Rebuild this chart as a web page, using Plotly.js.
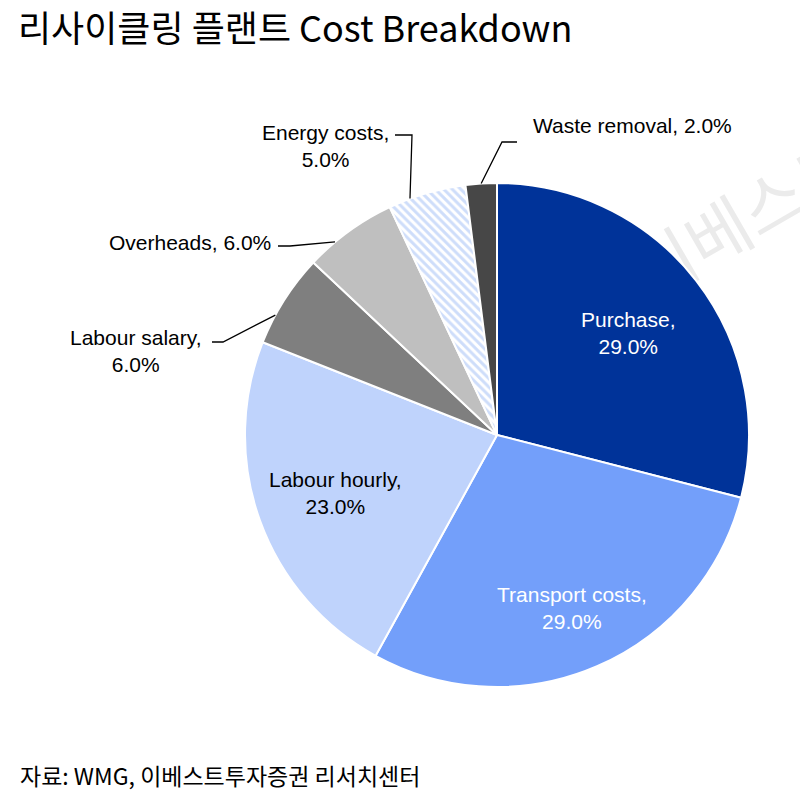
<!DOCTYPE html>
<html>
<head>
<meta charset="utf-8">
<script src="https://cdn.plot.ly/plotly-3.0.1.min.js"></script>
<style>
html,body{margin:0;padding:0;background:#fff;}
#wrap{position:relative;width:800px;height:800px;overflow:hidden;background:#fff;}
#wm{position:absolute;left:622px;top:192px;font-family:'Noto Sans CJK KR',sans-serif;font-size:68px;line-height:68px;color:#ebebeb;white-space:nowrap;transform-origin:102px 34px;transform:rotate(-30deg);z-index:0;}
#chart{position:absolute;left:0;top:0;width:800px;height:800px;z-index:1;}
</style>
</head>
<body>
<div id="wrap">
<div id="wm"></div>
<div id="chart"></div>
</div>
<script>
// ---- data ----
const categories = ["Purchase", "Transport costs", "Labour hourly", "Labour salary", "Overheads", "Energy costs", "Waste removal"];
const values = [29.0, 29.0, 23.0, 6.0, 6.0, 5.0, 2.0];
const titleText = "리사이클링 플랜트 Cost Breakdown";
const sourceText = "자료: WMG, 이베스트투자증권 리서치센터";
const watermarkText = "이베스트";

// ---- styles / layout params ----
const W = 800, H = 800;
const CX = 497, CY = 435, R = 252;   // pie centre / radius in px
const sliceColors = ["#003399", "#739ffa", "#bfd3fc", "#7f7f7f", "#bfbfbf", "#ffffff", "#474747"];
const labelFont = "'Liberation Sans Narrow', 'Arial Narrow', 'Liberation Sans', Arial, sans-serif";
const labelSize = 21;
const labelStyle = [
  {mode: "in", r: 0.66, color: "#ffffff", lines: 2},
  {mode: "in", r: 0.75, color: "#ffffff", lines: 2},
  {mode: "in", r: 0.68, color: "#000000", lines: 2},
  {mode: "out", shift: -4, elbow: [223, 342], end: [212, 342], text: [136, 351], anchor: "center", lines: 2},
  {mode: "out", shift: -4, elbow: [290, 246], end: [278, 246], text: [273, 243], anchor: "right", lines: 1},
  {mode: "out", shift: -4, elbow: [412, 135], end: [395, 135], text: [325, 146], anchor: "center", lines: 2},
  {mode: "out", shift: 0, elbow: [502, 142], end: [517, 142], text: [531, 126], anchor: "left", lines: 1}
];

document.getElementById("wm").textContent = watermarkText;

const px = x => x / W;
const py = y => 1 - y / H;

const total = values.reduce((a, b) => a + b, 0);
let cum = 0;
const annotations = [];
const shapes = [];
values.forEach((v, i) => {
  const mid = (cum + v / 2) / total * 360;
  cum += v;
  const st = labelStyle[i];
  const pct = v.toFixed(1) + "%";
  if (st.mode === "in") {
    const a = mid * Math.PI / 180;
    const x = CX + st.r * R * Math.sin(a), y = CY - st.r * R * Math.cos(a);
    annotations.push({
      x: px(x), y: py(y), xref: "paper", yref: "paper", showarrow: false,
      text: categories[i] + ",<br>" + pct, align: "center",
      xanchor: "center", yanchor: "middle",
      font: {family: labelFont, size: labelSize, color: st.color}
    });
  } else {
    const a = (mid + st.shift) * Math.PI / 180;
    const ex = CX + R * Math.sin(a), ey = CY - R * Math.cos(a);
    shapes.push({
      type: "path", xref: "paper", yref: "paper",
      path: `M ${px(ex)} ${py(ey)} L ${px(st.elbow[0])} ${py(st.elbow[1])} L ${px(st.end[0])} ${py(st.end[1])}`,
      line: {color: "#000000", width: 1.3}
    });
    const txt = st.lines === 2 ? categories[i] + ",<br>" + pct : categories[i] + ", " + pct;
    annotations.push({
      x: px(st.text[0]), y: py(st.text[1]), xref: "paper", yref: "paper", showarrow: false,
      text: txt, align: "center", xanchor: st.anchor, yanchor: "middle",
      font: {family: labelFont, size: labelSize, color: "#000000"}
    });
  }
});

// source
annotations.push({
  x: px(18), y: py(775), xref: "paper", yref: "paper", showarrow: false,
  text: sourceText, xanchor: "left", yanchor: "middle",
  font: {family: "'Noto Sans CJK KR', sans-serif", size: 23, color: "#000000"}
});

const trace = {
  type: "pie",
  labels: categories,
  values: values,
  sort: false,
  direction: "clockwise",
  rotation: 0,
  textinfo: "none",
  hoverinfo: "skip",
  showlegend: false,
  domain: {x: [(CX - R) / W, (CX + R) / W], y: [1 - (CY + R) / H, 1 - (CY - R) / H]},
  marker: {
    colors: sliceColors,
    line: {color: "#ffffff", width: 2},
    pattern: {
      shape: ["", "", "", "", "", "\\", ""],
      fgcolor: "#9dbcf5",
      bgcolor: "#ffffff",
      size: 6,
      solidity: 0.5,
      fillmode: "overlay"
    }
  }
};

const layout = {
  width: W, height: H,
  margin: {l: 0, r: 0, t: 0, b: 0},
  paper_bgcolor: "rgba(0,0,0,0)",
  plot_bgcolor: "rgba(0,0,0,0)",
  title: {
    text: titleText, x: px(18), xanchor: "left", xref: "paper",
    y: 1 - 29 / H, yanchor: "middle", yref: "container",
    font: {family: "'Noto Sans CJK KR', sans-serif", size: 36, color: "#000000", weight: 400}
  },
  annotations: annotations,
  shapes: shapes
};

Plotly.newPlot("chart", [trace], layout, {displayModeBar: false, staticPlot: true});
</script>
</body>
</html>
